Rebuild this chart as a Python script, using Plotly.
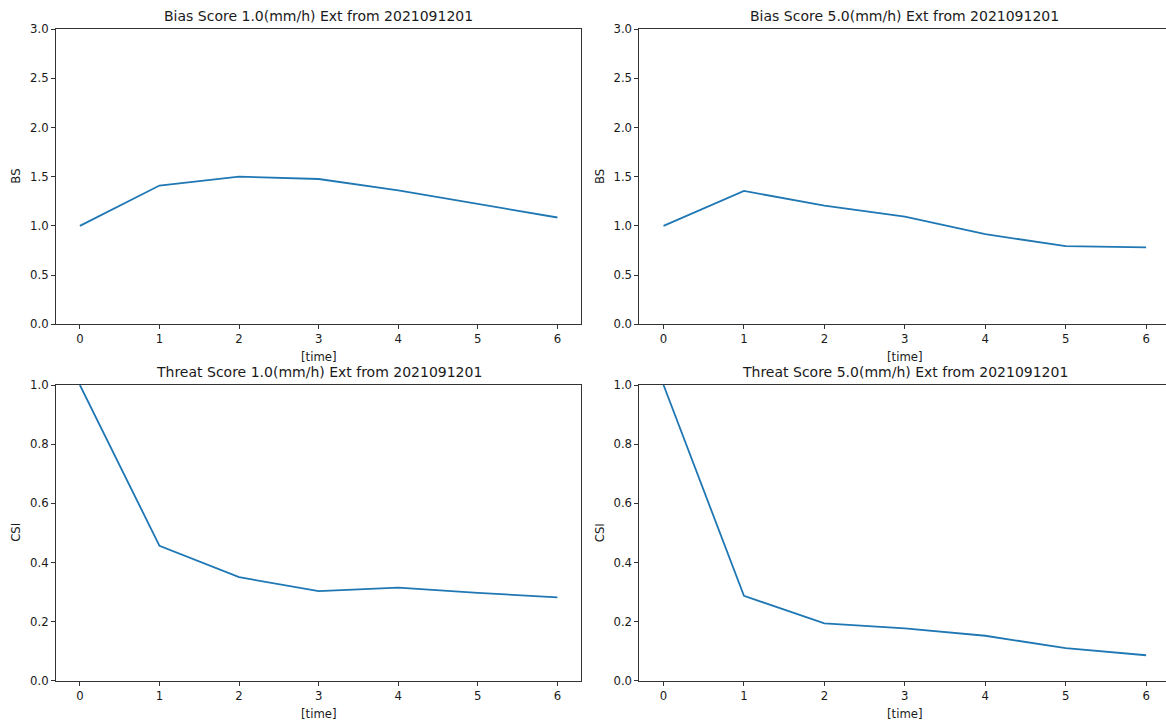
import plotly.graph_objects as go

time = [0, 1, 2, 3, 4, 5, 6]
bs_1mm = [1.00, 1.41, 1.50, 1.476, 1.36, 1.225, 1.085]
bs_5mm = [1.00, 1.355, 1.205, 1.095, 0.915, 0.795, 0.782]
csi_1mm = [1.00, 0.456, 0.350, 0.303, 0.315, 0.297, 0.282]
csi_5mm = [1.00, 0.287, 0.194, 0.177, 0.152, 0.110, 0.086]

titles = [
    "Bias Score 1.0(mm/h) Ext from 2021091201",
    "Bias Score 5.0(mm/h) Ext from 2021091201",
    "Threat Score 1.0(mm/h) Ext from 2021091201",
    "Threat Score 5.0(mm/h) Ext from 2021091201",
]
ylabels = ["BS", "BS", "CSI", "CSI"]
xlabel = "[time]"
bs_ticks = [0.0, 0.5, 1.0, 1.5, 2.0, 2.5, 3.0]
csi_ticks = [0.0, 0.2, 0.4, 0.6, 0.8, 1.0]

W, H = 1166, 720
FONT = "DejaVu Sans"
LINE = "#1f77b4"
SPINE = "#333"
TXT = "#1a1a1a"

# axis boxes in pixels: (left, right, top, bottom); right column is cut by the window edge
boxes = [(56, 581.3, 29, 324.3), (639.4, 1166, 29, 324.3),
         (56, 581.3, 385, 680.7), (639.4, 1166, 385, 680.7)]
# full matplotlib range is [-0.3, 6.3]; right column only shows up to the window edge
xranges = [[-0.3, 6.3], [-0.3, 6.247], [-0.3, 6.3], [-0.3, 6.247]]
ymirror = [True, False, True, False]
series = [bs_1mm, bs_5mm, csi_1mm, csi_5mm]
yranges = [[0, 3], [0, 3], [0, 1], [0, 1]]
yticks = [bs_ticks, bs_ticks, csi_ticks, csi_ticks]

fig = go.Figure()
layout = dict(
    template="none",
    width=W, height=H,
    margin=dict(l=0, r=0, t=0, b=0, pad=0, autoexpand=False),
    paper_bgcolor="white", plot_bgcolor="white",
    showlegend=False,
    font=dict(family=FONT, size=11.7, color=TXT),
)
annotations = []
for i, (l, r, t, b) in enumerate(boxes):
    n = i + 1
    xa = "x" if n == 1 else f"x{n}"
    ya = "y" if n == 1 else f"y{n}"
    fig.add_trace(go.Scatter(x=time, y=series[i], mode="lines",
                             line=dict(color=LINE, width=1.8),
                             xaxis=xa, yaxis=ya, hoverinfo="skip"))
    axcommon = dict(showgrid=False, zeroline=False, showline=True,
                    automargin=False,
                    linecolor=SPINE, linewidth=1,
                    ticks="outside", ticklen=4, tickwidth=1, tickcolor=SPINE,
                    tickfont=dict(family=FONT, size=11.7, color=TXT))
    layout["xaxis" if n == 1 else f"xaxis{n}"] = dict(
        domain=[l / W, r / W], anchor=ya, range=xranges[i], mirror=True,
        tickvals=time, ticktext=[str(v) for v in time], **axcommon)
    layout["yaxis" if n == 1 else f"yaxis{n}"] = dict(
        domain=[1 - b / H, 1 - t / H], anchor=xa, range=yranges[i],
        mirror=ymirror[i],
        tickvals=yticks[i], tickformat=".1f", **axcommon)
    # centre of the full (uncut) axes box
    full_r = l + (r - l) * (6.6 / (xranges[i][1] + 0.3))
    cx = (l + full_r) / 2 / W
    annotations.append(dict(text=titles[i], x=cx, y=1 - (t - 3) / H,
                            xref="paper", yref="paper", xanchor="center",
                            yanchor="bottom", showarrow=False,
                            font=dict(family=FONT, size=14, color=TXT)))
    annotations.append(dict(text=xlabel, x=cx, y=1 - (b + 24) / H,
                            xref="paper", yref="paper", xanchor="center",
                            yanchor="top", showarrow=False,
                            font=dict(family=FONT, size=11.7, color=TXT)))
    annotations.append(dict(text=ylabels[i], x=(l - 31) / W, y=1 - (t + b) / 2 / H,
                            xref="paper", yref="paper", xanchor="right",
                            yanchor="middle", textangle=-90, showarrow=False,
                            font=dict(family=FONT, size=11.7, color=TXT)))
layout["annotations"] = annotations
fig.update_layout(**layout)
fig.write_html("out.html")
